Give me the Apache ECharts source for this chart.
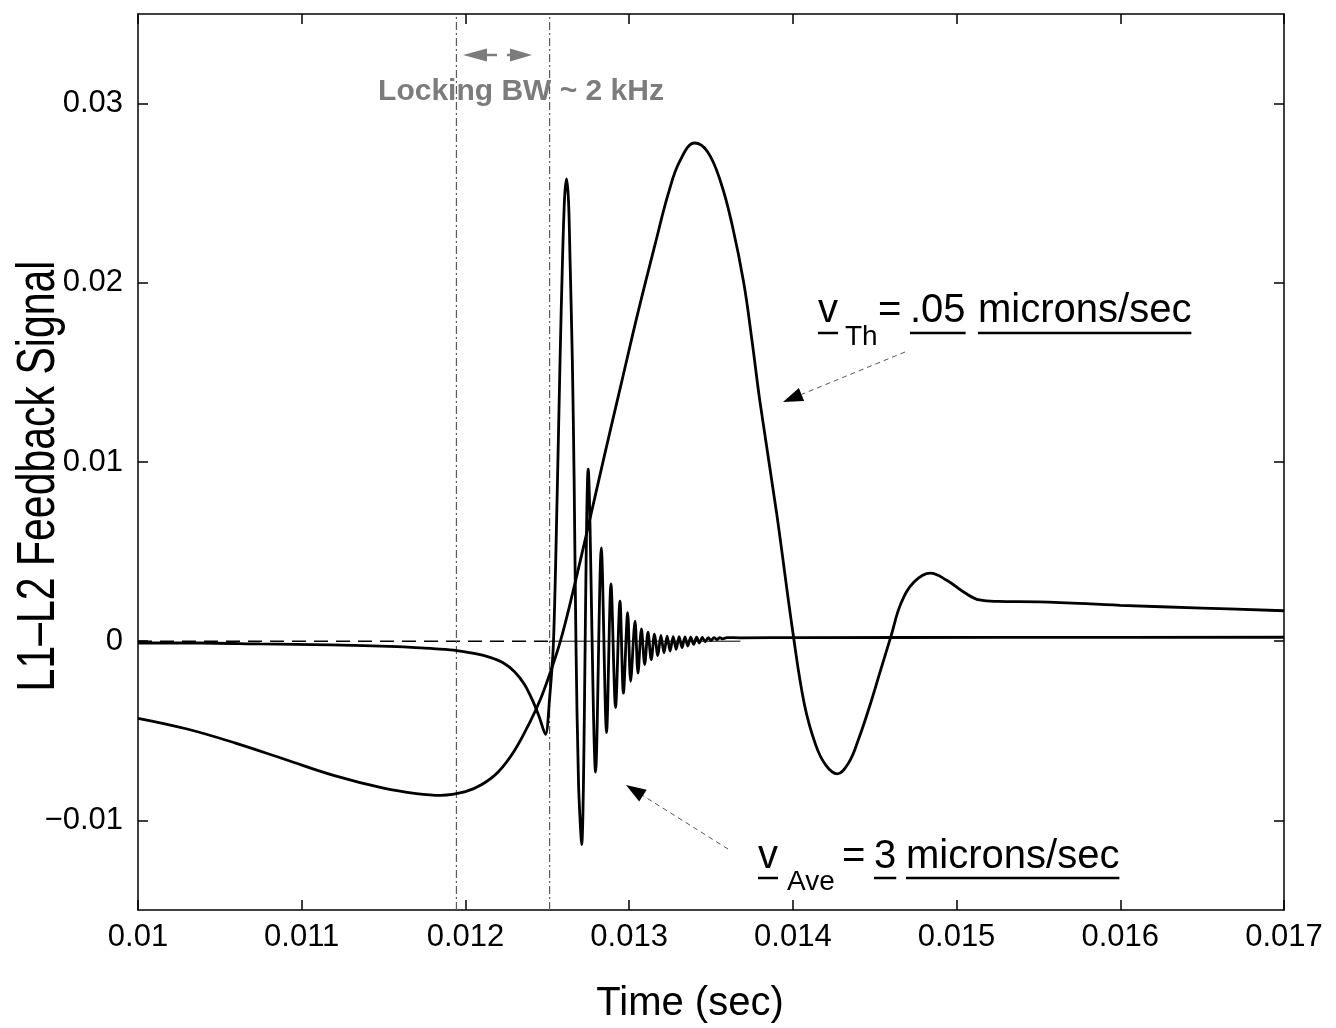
<!DOCTYPE html>
<html>
<head>
<meta charset="utf-8">
<script src="https://cdn.jsdelivr.net/npm/echarts@6/dist/echarts.min.js"></script>
<style>html,body{margin:0;padding:0;background:#fff}#c{width:1336px;height:1028px}</style>
</head>
<body>
<div id="c"></div>
<script>
// ---------- data ----------
const xRange = [0.010, 0.017];
const yRange = [-0.015, 0.035];
const xTickValues = [0.010, 0.011, 0.012, 0.013, 0.014, 0.015, 0.016, 0.017];
const yTickValues = [-0.01, 0, 0.01, 0.02, 0.03];
const lockingBounds = [0.011945, 0.012514];
const zeroRefTime = [0.0100, 0.012514, 0.01368];

// v_Th = .05 microns/sec (slow, large response)
const thTime = [0.01000,0.01030,0.01060,0.01090,0.01120,0.01150,0.01170,0.01185,0.01200,0.01210,
  0.01220,0.01230,0.01240,0.01246,0.01252,0.01258,0.01265,0.01275,0.01285,0.01295,
  0.01305,0.01316,0.01324,0.01331,0.01340,0.01348,0.01356,0.01363,0.01370,0.01375,
  0.01380,0.01390,0.01400,0.01407,0.01414,0.01420,0.01427,0.01434,0.01440,0.01447,
  0.01453,0.01460,0.01466,0.01474,0.01484,0.01494,0.01505,0.01514,0.01525,0.01550,
  0.01600,0.01650,0.01700];
const thValue = [-0.0043,-0.0049,-0.0057,-0.0066,-0.0075,-0.0082,-0.0085,-0.0086,-0.0084,-0.0080,
  -0.0073,-0.0061,-0.0044,-0.0032,-0.0017,0.0000,0.0025,0.0064,0.0104,0.0143,
  0.0182,0.0222,0.0250,0.0268,0.0278,0.0273,0.0256,0.0232,0.0200,0.0168,
  0.0133,0.0072,0.0005,-0.0035,-0.0058,-0.0069,-0.0074,-0.0068,-0.0055,-0.0036,
  -0.0018,0.0003,0.0021,0.0033,0.0038,0.0034,0.0027,0.0023,0.00222,0.0022,
  0.0020,0.00185,0.0017];

// v_Ave = 3 microns/sec (ringing response)
const aveTime = [0.010000,0.010379,0.010746,0.011174,0.011584,0.011786,0.011927,0.012061,0.012150,0.012230,
  0.012300,0.012360,0.012410,0.012450,0.012489,0.012514,0.012538,0.012560,0.012578,0.012593,0.012606,
  0.012618,0.012630,0.012639,0.012653,0.012664,0.012675,0.012691,0.012710,0.012750,0.012795,
  0.012830,0.012862,0.012889,0.012917,0.012944,0.012965,0.012991,0.013009,0.013036,0.013054,
  0.013075,0.013095,0.013115,0.013135,0.013155,0.013175,0.013194,0.013213,0.013232,0.013250,
  0.013269,0.013287,0.013305,0.013323,0.013341,0.013358,0.013376,0.013394,0.013412,0.013429,
  0.013447,0.013465,0.013483,0.013500,0.013518,0.013536,0.013554,0.013572,0.013596,0.013682,
  0.014049,0.015272,0.017000];
const aveValue = [-0.0001,-0.0001,-0.00015,-0.0002,-0.0003,-0.0004,-0.0005,-0.0007,-0.0009,-0.0012,
  -0.0017,-0.0024,-0.0033,-0.0042,-0.0052,-0.0032,0.0000,0.0080,0.0157,0.0213,0.0248,
  0.0258,0.0245,0.0213,0.0157,0.0090,0.0000,-0.0080,-0.01135,0.0096,-0.0073,
  0.0052,-0.0051,0.0032,-0.0037,0.00224,-0.0029,0.0016,-0.00224,0.00112,-0.00178,
  0.00069,-0.0013,0.0005,-0.00103,0.0004,-0.0008,0.00032,-0.00065,0.00028,-0.00055,
  0.00026,-0.00045,0.00025,-0.00036,0.00024,-0.00027,0.00023,-0.00018,0.00022,-0.0001,
  0.00021,-0.00003,0.0002,0.00004,0.0002,0.00009,0.0002,0.00013,0.0002,0.00019,
  0.0002,0.00021,0.00022];

// ---------- helpers ----------
const FONT = '"Liberation Sans", Arial, Helvetica, sans-serif';
const zip = (a, b) => a.map((t, i) => [t, b[i]]);
const mctx = document.createElement('canvas').getContext('2d');
function textWidth(s, size, weight) {
  mctx.font = (weight || 'normal') + ' ' + size + 'px ' + FONT;
  return mctx.measureText(s).width;
}
function textEl(s, x, baseline, size, opt) {
  opt = opt || {};
  return {
    type: 'text', z: 20, x: x, y: baseline - 0.3465 * size,
    style: {
      text: s, fill: opt.color || '#000', fontSize: size, fontFamily: FONT,
      fontWeight: opt.weight || 'normal',
      align: opt.align || 'left', verticalAlign: 'middle',
      textAlign: opt.align || 'left', textVerticalAlign: 'middle'
    }
  };
}
function underline(x, baseline, w, off) {
  return { type: 'line', z: 20, shape: { x1: x, y1: baseline + off, x2: x + w, y2: baseline + off },
    style: { stroke: '#000', lineWidth: 2.5 } };
}
function label(segs, off) {
  const out = [];
  segs.forEach(s => {
    out.push(textEl(s.t, s.x, s.b, s.size));
    if (s.u) out.push(underline(s.x, s.b, textWidth(s.t, s.size), off));
  });
  return out;
}
function arrow(x1, y1, x2, y2, opt) {
  const dx = x2 - x1, dy = y2 - y1, L = Math.hypot(dx, dy);
  const ux = dx / L, uy = dy / L;
  const hl = opt.headLen, hw = opt.headW;
  const bx = x2 - ux * hl, by = y2 - uy * hl;
  const els = [];
  els.push({ type: 'line', z: 20, shape: { x1: x1, y1: y1, x2: bx, y2: by },
    style: { stroke: opt.lineColor, lineWidth: opt.lineWidth, lineDash: opt.dash || null } });
  els.push({ type: 'polygon', z: 21, shape: { points: [[x2, y2], [bx - uy * hw, by + ux * hw], [bx + uy * hw, by - ux * hw]] },
    style: { fill: opt.headColor } });
  return els;
}

const xFmt = v => { const s = v.toFixed(3); return s.endsWith('0') ? s.slice(0, -1) : s; };
const yFmt = v => Math.abs(v) < 1e-12 ? '0' : (v < 0 ? '\u2212' : '') + Math.abs(v).toFixed(2);

const axisLineStyle = { color: '#000', width: 1.5 };
function xAxisDef(pos, withLabels) {
  return {
    type: 'value', min: xRange[0], max: xRange[1], position: pos,
    axisLine: { show: true, onZero: false, lineStyle: axisLineStyle },
    axisTick: { show: true, inside: true, length: 10, customValues: xTickValues, lineStyle: axisLineStyle },
    axisLabel: withLabels ? { show: true, customValues: xTickValues, formatter: xFmt, color: '#000',
      fontSize: 31, fontFamily: FONT, margin: 12 } : { show: false },
    splitLine: { show: false },
    name: withLabels ? 'Time (sec)' : '',
    nameLocation: 'middle', nameGap: 74,
    nameTextStyle: { fontSize: 40, color: '#000', fontFamily: FONT, padding: [0, 42, 0, 0] }
  };
}
function yAxisDef(pos, withLabels) {
  return {
    type: 'value', min: yRange[0], max: yRange[1], position: pos,
    axisLine: { show: true, onZero: false, lineStyle: axisLineStyle },
    axisTick: { show: true, inside: true, length: 10, customValues: yTickValues, lineStyle: axisLineStyle },
    axisLabel: withLabels ? { show: true, customValues: yTickValues, formatter: yFmt, color: '#000',
      fontSize: 31, fontFamily: FONT, margin: 15 } : { show: false },
    splitLine: { show: false }
  };
}

const graphics = [].concat(
  // y axis title (condensed, rotated)
  [{
    type: 'text', z: 20, x: 39, y: 476, rotation: Math.PI / 2, scaleY: 1.32,
    style: { text: 'L1\u2013L2 Feedback Signal', fill: '#000', fontSize: 41, fontFamily: FONT,
      align: 'center', verticalAlign: 'middle', textAlign: 'center', textVerticalAlign: 'middle' }
  }],
  // Locking BW annotation
  [textEl('Locking BW ~ 2 kHz', 521, 102, 30, { color: '#7c7c7c', weight: 'bold', align: 'center' })],
  arrow(497, 55, 463, 55, { headLen: 24, headW: 6.5, lineColor: '#7c7c7c', lineWidth: 2.5, headColor: '#7c7c7c' }),
  arrow(507, 55, 532, 55, { headLen: 22, headW: 6.5, lineColor: '#7c7c7c', lineWidth: 2.5, headColor: '#7c7c7c' }),
  // v_Th label
  label([
    { t: 'v', x: 818, b: 325, size: 40, u: true },
    { t: 'Th', x: 845, b: 347, size: 28 },
    { t: '=', x: 878, b: 325, size: 40 },
    { t: '.05', x: 910, b: 325, size: 40, u: true },
    { t: 'microns/sec', x: 978, b: 325, size: 40, u: true }
  ], 8),
  arrow(905, 352, 783, 402, { headLen: 20, headW: 7, lineColor: '#555', lineWidth: 1, dash: [5, 4], headColor: '#000' }),
  // v_Ave label
  label([
    { t: 'v', x: 758, b: 871, size: 40, u: true },
    { t: 'Ave', x: 787, b: 892, size: 28 },
    { t: '=', x: 842, b: 871, size: 40 },
    { t: '3', x: 874, b: 871, size: 40, u: true },
    { t: 'microns/sec', x: 906, b: 871, size: 40, u: true }
  ], 7),
  arrow(728, 849, 626, 785, { headLen: 20, headW: 7, lineColor: '#555', lineWidth: 1, dash: [5, 4], headColor: '#000' })
);

const lockSeries = lockingBounds.map((t, i) => ({
  name: 'locking bound ' + (i + 1), type: 'line', xAxisIndex: 0, yAxisIndex: 0,
  data: [[t, yRange[0]], [t, yRange[1]]],
  showSymbol: false, silent: true, z: 2,
  lineStyle: { color: '#5a5a5a', width: 1.2, type: [8, 3, 2, 3] }
}));

const chart = echarts.init(document.getElementById('c'), null, { renderer: 'canvas' });
chart.setOption({
  animation: false,
  backgroundColor: '#fff',
  grid: { left: 138, right: 52, top: 14, bottom: 118, containLabel: false, outerBoundsMode: 'none' },
  xAxis: [xAxisDef('bottom', true), xAxisDef('top', false)],
  yAxis: [yAxisDef('left', true), yAxisDef('right', false)],
  series: lockSeries.concat([
    {
      name: 'zero reference', type: 'line', xAxisIndex: 0, yAxisIndex: 0,
      data: [[zeroRefTime[0], 0], [zeroRefTime[1], 0]],
      showSymbol: false, silent: true, z: 1,
      lineStyle: { color: '#000', width: 1.4, type: [14, 8] }
    },
    {
      name: 'zero reference (cont.)', type: 'line', xAxisIndex: 0, yAxisIndex: 0,
      data: [[zeroRefTime[1], 0], [zeroRefTime[2], 0]],
      showSymbol: false, silent: true, z: 1,
      lineStyle: { color: '#000', width: 1 }
    },
    {
      name: 'v_Th = .05 microns/sec', type: 'line', xAxisIndex: 0, yAxisIndex: 0,
      data: zip(thTime, thValue), smooth: 0.4, showSymbol: false, z: 3,
      lineStyle: { color: '#000', width: 2.8 }
    },
    {
      name: 'v_Ave = 3 microns/sec', type: 'line', xAxisIndex: 0, yAxisIndex: 0,
      data: zip(aveTime, aveValue), smooth: 0.3, showSymbol: false, z: 4,
      lineStyle: { color: '#000', width: 2.8 }
    }
  ]),
  graphic: graphics
});
</script>
</body>
</html>
